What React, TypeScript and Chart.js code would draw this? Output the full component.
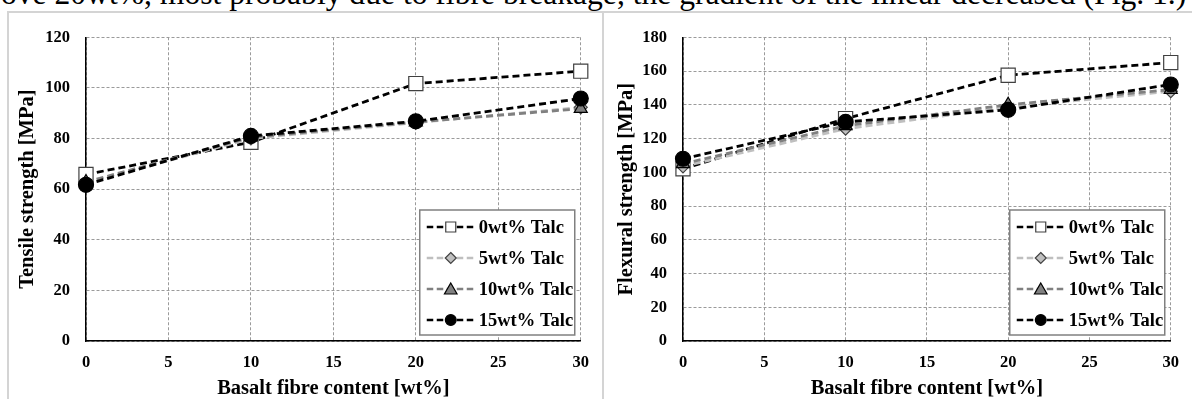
import React, { useEffect, useRef } from 'react';
import { Chart, registerables } from 'chart.js';

Chart.register(...registerables);

// ---------- data ----------
const fibreContent = [0, 10, 20, 30];
const seriesLabels = ['0wt% Talc', '5wt% Talc', '10wt% Talc', '15wt% Talc'];

const tensile0 = [65.8, 78.5, 101.7, 106.6];
const tensile5 = [62.5, 80.0, 86.3, 92.3];
const tensile10 = [62.8, 80.5, 86.5, 91.8];
const tensile15 = [61.7, 81.0, 86.8, 95.8];

const flexural0 = [102.0, 131.8, 157.5, 165.0];
const flexural5 = [103.5, 125.8, 138.5, 148.0];
const flexural10 = [105.0, 127.5, 140.0, 149.0];
const flexural15 = [108.0, 129.8, 137.0, 152.0];

const xTicks = [0, 5, 10, 15, 20, 25, 30];
const tensileTicks = [0, 20, 40, 60, 80, 100, 120];
const flexuralTicks = [0, 20, 40, 60, 80, 100, 120, 140, 160, 180];

const xTitle = 'Basalt fibre content [wt%]';
const tensileTitle = 'Tensile strength [MPa]';
const flexuralTitle = 'Flexural strength [MPa]';
const headerText =
  'ove 20wt%, most probably due to fibre breakage, the gradient of the linear decreased (Fig. 1.)';

// ---------- styles ----------
const FONT = '"Liberation Serif", "Times New Roman", serif';

type SeriesStyle = {
  line: string;
  fill: string;
  stroke: string;
  shape: 'rect' | 'rectRot' | 'triangle' | 'circle';
  radius: number;
};

const seriesStyles: SeriesStyle[] = [
  { line: '#000000', fill: '#ffffff', stroke: '#404040', shape: 'rect', radius: 10 },
  { line: '#bfbfbf', fill: '#bfbfbf', stroke: '#404040', shape: 'rectRot', radius: 6.5 },
  { line: '#808080', fill: '#808080', stroke: '#000000', shape: 'triangle', radius: 7.5 },
  { line: '#000000', fill: '#000000', stroke: '#000000', shape: 'circle', radius: 7.5 },
];

function drawMarker(ctx: CanvasRenderingContext2D, shape: string, x: number, y: number, fill: string, stroke: string) {
  ctx.save();
  ctx.setLineDash([]);
  ctx.fillStyle = fill;
  ctx.strokeStyle = stroke;
  ctx.lineWidth = 1.2;
  ctx.beginPath();
  if (shape === 'rect') {
    ctx.rect(x - 5, y - 5, 10, 10);
  } else if (shape === 'rectRot') {
    ctx.moveTo(x, y - 5.5);
    ctx.lineTo(x + 5.5, y);
    ctx.lineTo(x, y + 5.5);
    ctx.lineTo(x - 5.5, y);
    ctx.closePath();
  } else if (shape === 'triangle') {
    ctx.moveTo(x, y - 6);
    ctx.lineTo(x + 6.3, y + 5);
    ctx.lineTo(x - 6.3, y + 5);
    ctx.closePath();
  } else {
    ctx.arc(x, y, 5.4, 0, Math.PI * 2);
  }
  ctx.fill();
  ctx.stroke();
  ctx.restore();
}

const legendPlugin = {
  id: 'boxLegend',
  afterDraw(chart: any) {
    const { ctx, chartArea } = chart;
    const left = chartArea.right - 161;
    const right = chartArea.right - 6;
    const top = chartArea.bottom - 131;
    const bottom = chartArea.bottom - 6;
    ctx.save();
    ctx.fillStyle = '#ffffff';
    ctx.fillRect(left, top, right - left, bottom - top);
    ctx.strokeStyle = '#808080';
    ctx.lineWidth = 1.5;
    ctx.setLineDash([]);
    ctx.strokeRect(left, top, right - left, bottom - top);
    const rows = [17, 48, 79, 110];
    seriesLabels.forEach((label, i) => {
      const st = seriesStyles[i];
      const y = top + rows[i];
      ctx.save();
      ctx.strokeStyle = st.line;
      ctx.lineWidth = 2.5;
      ctx.setLineDash([6.5, 3.5]);
      ctx.beginPath();
      ctx.moveTo(left + 7, y);
      ctx.lineTo(left + 55, y);
      ctx.stroke();
      ctx.restore();
      drawMarker(ctx, st.shape, left + 31, y, st.fill, st.stroke);
      ctx.fillStyle = '#000000';
      ctx.font = `bold 18.5px ${FONT}`;
      ctx.textAlign = 'left';
      ctx.textBaseline = 'middle';
      ctx.fillText(label, left + 59, y + 1);
    });
    ctx.restore();
  },
};

function makeConfig(series: number[][], yTicks: number[], yTitle: string, yWidth: number, padRight: number, yTitlePad: number) {
  const datasets = series.map((vals, i) => {
    const st = seriesStyles[i];
    return {
      label: seriesLabels[i],
      data: fibreContent.map((x, j) => ({ x, y: vals[j] })),
      borderColor: st.line,
      borderWidth: 2.8,
      borderDash: [7, 4],
      backgroundColor: st.fill,
      pointBackgroundColor: st.fill,
      pointBorderColor: st.stroke,
      pointBorderWidth: 1.2,
      pointStyle: st.shape,
      pointRadius: st.radius,
      pointHoverRadius: st.radius,
      fill: false,
      tension: 0,
      clip: false as any,
      order: 3 - i,
    };
  });
  const yMax = yTicks[yTicks.length - 1];
  return {
    type: 'line' as const,
    data: { datasets },
    plugins: [legendPlugin],
    options: {
      animation: false as const,
      responsive: false,
      devicePixelRatio: 1,
      events: [],
      layout: { padding: { top: 18, right: padRight, left: 0, bottom: 0 } },
      plugins: { legend: { display: false }, tooltip: { enabled: false } },
      scales: {
        x: {
          type: 'linear' as const,
          min: 0,
          max: 30,
          afterBuildTicks: (scale: any) => {
            scale.ticks = xTicks.map((v) => ({ value: v }));
          },
          afterFit: (scale: any) => {
            scale.height = 58;
          },
          grid: { color: '#9a9a9a', lineWidth: 1, drawTicks: false },
          border: { display: true, color: '#000000', width: 1.5, dash: [3, 2] },
          ticks: {
            color: '#000000',
            padding: 13,
            font: { family: FONT, size: 16.5, weight: 'bold' as const, lineHeight: 1 },
            maxRotation: 0,
          },
          title: {
            display: true,
            text: xTitle,
            color: '#000000',
            padding: { top: 0, bottom: 0 },
            font: { family: FONT, size: 20.5, weight: 'bold' as const, lineHeight: 1 },
          },
        },
        y: {
          type: 'linear' as const,
          min: 0,
          max: yMax,
          afterBuildTicks: (scale: any) => {
            scale.ticks = yTicks.map((v) => ({ value: v }));
          },
          afterFit: (scale: any) => {
            scale.width = yWidth;
          },
          grid: { color: '#9a9a9a', lineWidth: 1, drawTicks: false },
          border: { display: true, color: '#000000', width: 1.5, dash: [3, 2] },
          ticks: {
            color: '#000000',
            padding: 16,
            font: { family: FONT, size: 16.5, weight: 'bold' as const, lineHeight: 1 },
          },
          title: {
            display: true,
            text: yTitle,
            color: '#000000',
            padding: { top: yTitlePad, bottom: 0 },
            font: { family: FONT, size: 20.5, weight: 'bold' as const, lineHeight: 1 },
          },
        },
      },
    },
  };
}

function ChartCanvas(props: { cfg: any; left: number; top: number; width: number; height: number }) {
  const ref = useRef<HTMLCanvasElement | null>(null);
  useEffect(() => {
    if (!ref.current) return;
    const chart = new Chart(ref.current, props.cfg);
    return () => chart.destroy();
  }, []);
  return (
    <canvas
      ref={ref}
      width={props.width}
      height={props.height}
      style={{ position: 'absolute', left: props.left, top: props.top, width: props.width, height: props.height }}
    />
  );
}

export default function App() {
  const tensileCfg = makeConfig([tensile0, tensile5, tensile10, tensile15], tensileTicks, tensileTitle, 77, 18, 8);
  const flexuralCfg = makeConfig([flexural0, flexural5, flexural10, flexural15], flexuralTicks, flexuralTitle, 78, 11, 11);
  return (
    <div
      style={{
        position: 'fixed',
        left: 0,
        top: 0,
        width: 1192,
        height: 399,
        overflow: 'hidden',
        background: '#ffffff',
      }}
    >
      <div
        style={{
          position: 'absolute',
          left: 1,
          top: -22,
          fontFamily: FONT,
          fontSize: 31.6,
          lineHeight: 1,
          whiteSpace: 'nowrap',
          color: '#000000',
        }}
      >
        {headerText}
      </div>
      <div style={{ position: 'absolute', left: 7, top: 11, width: 1185, height: 1.5, background: '#d4d4d4' }} />
      <div style={{ position: 'absolute', left: 7, top: 11, width: 1.5, height: 388, background: '#d4d4d4' }} />
      <div style={{ position: 'absolute', left: 602, top: 11, width: 2, height: 388, background: '#d4d4d4' }} />
      <ChartCanvas cfg={tensileCfg} left={9} top={13} width={593} height={386} />
      <ChartCanvas cfg={flexuralCfg} left={605} top={13} width={587} height={386} />
    </div>
  );
}
